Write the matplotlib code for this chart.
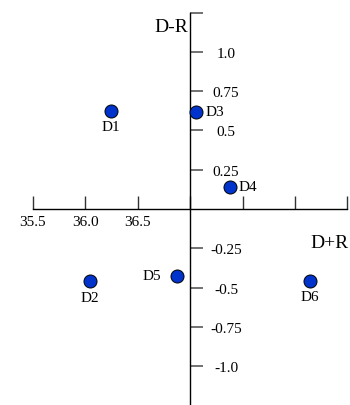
import matplotlib.pyplot as plt

plt.rcParams['font.family'] = ['Liberation Serif', 'DejaVu Serif']

# data
points = ['D1', 'D2', 'D3', 'D4', 'D5', 'D6']
d_plus_r = [36.25, 36.05, 37.06, 37.38, 36.88, 38.14]
d_minus_r = [0.625, -0.46, 0.62, 0.14, -0.425, -0.455]
label_side = ['below', 'below', 'right', 'right', 'left', 'below']

x_ticks = [35.5, 36.0, 36.5, 37.0, 37.5, 38.0, 38.5]
x_tick_labels = ['35.5', '36.0', '36.5', '', '', '', '']
y_ticks = [-1.0, -0.75, -0.5, -0.25, 0.25, 0.5, 0.75, 1.0, 1.25]
y_tick_labels = ['-1.0', '-0.75', '-0.5', '-0.25', '0.25', '0.5', '0.75', '1.0', '']

OFFSETS = {
    'below': ((0, -11.5), 'center', 'center'),
    'right': ((6.5, 0), 'left', 'center'),
    'left': ((-11.5, 0), 'right', 'center'),
}

fig = plt.figure(figsize=(3.5, 4.06), dpi=100)
ax = fig.add_axes([0, 0, 1, 1])
ax.set_xlim(35.19, 38.524)
ax.set_ylim(-1.247, 1.336)

# crossing axes at (37, 0)
ax.spines['top'].set_visible(False)
ax.spines['left'].set_visible(False)
ax.spines['bottom'].set_position(('data', 0))
ax.spines['bottom'].set_bounds(35.5, 38.5)
ax.spines['right'].set_position(('data', 37))
ax.spines['right'].set_bounds(-1.25, 1.25)
for side in ('bottom', 'right'):
    ax.spines[side].set_linewidth(1.0)
    ax.spines[side].set_color('black')

ax.set_xticks(x_ticks, x_tick_labels)
ax.tick_params(axis='x', direction='in', length=9.4, width=1.0,
               color='#333333', labelsize=11, pad=4)

ax.yaxis.set_ticks_position('right')
ax.set_yticks(y_ticks, y_tick_labels)
ax.tick_params(axis='y', direction='out', length=9.4, width=1.3,
               color='#666666', labelsize=11, pad=16.5)
for lbl in ax.get_yticklabels():
    lbl.set_ha('center')

ax.scatter(d_plus_r, d_minus_r, s=88, color='#0033cc',
           edgecolor='black', linewidth=0.7, zorder=3, clip_on=False)

for name, x, y, side in zip(points, d_plus_r, d_minus_r, label_side):
    offset, ha, va = OFFSETS[side]
    ax.annotate(name, (x, y), xytext=offset, textcoords='offset points',
                ha=ha, va=va, fontsize=11)

ax.text(36.98, 1.16, 'D-R', ha='right', va='center', fontsize=14)
ax.text(38.51, -0.216, 'D+R', ha='right', va='center', fontsize=14)

fig.savefig('out.png', dpi=100)
